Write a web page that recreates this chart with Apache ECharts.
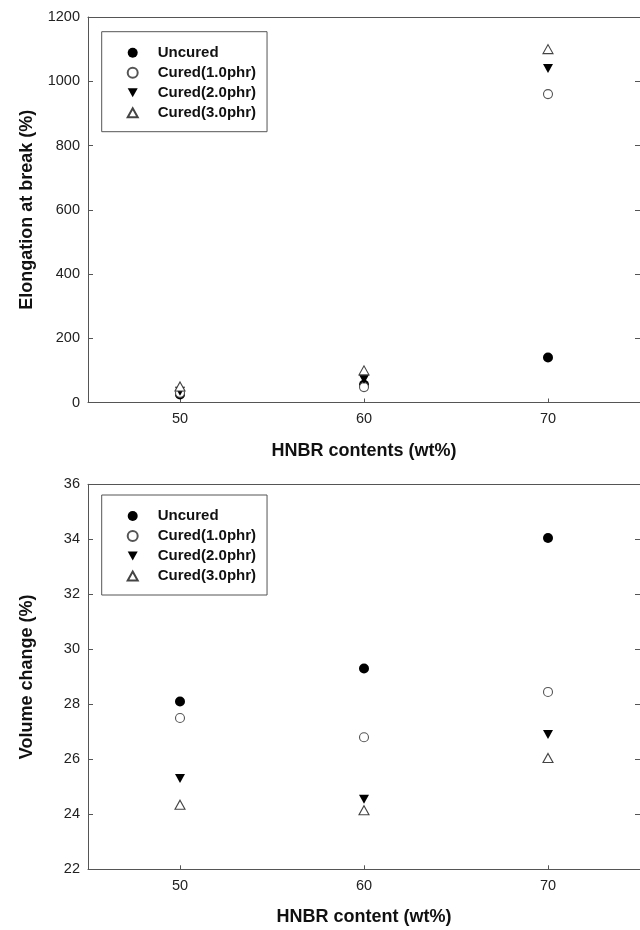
<!DOCTYPE html>
<html>
<head>
<meta charset="utf-8">
<script src="https://cdn.jsdelivr.net/npm/echarts@6/dist/echarts.min.js"></script>
<style>
html,body{margin:0;padding:0;background:#fff;}
#chart{width:640px;height:930px;}
</style>
</head>
<body>
<div id="chart"></div>
<script>
// ---- data ----
const hnbrContents = [50, 60, 70];
const xTicks = [50, 60, 70];
const seriesNames = ['Uncured', 'Cured(1.0phr)', 'Cured(2.0phr)', 'Cured(3.0phr)'];
const elongUncured = [25, 55, 140];
const elongCured1 = [30, 48, 960];
const elongCured2 = [35, 72, 1040];
const elongCured3 = [50, 100, 1100];
const volUncured = [28.1, 29.3, 34.05];
const volCured1 = [27.5, 26.8, 28.45];
const volCured2 = [25.3, 24.55, 26.9];
const volCured3 = [24.35, 24.15, 26.05];

const FONT = '"Liberation Sans", Arial, sans-serif';
const AX = '#555';

const styles = [
  { symbol: 'circle', symbolSize: 10, itemStyle: { color: '#000', opacity: 1 } },
  { symbol: 'circle', symbolSize: 9, itemStyle: { color: '#fff', borderColor: '#555', borderWidth: 1.1, opacity: 1 } },
  { symbol: 'path://M0,0L10,0L5,9Z', symbolSize: [10, 9], itemStyle: { color: '#000', opacity: 1 } },
  { symbol: 'path://M5,0L10,9L0,9Z', symbolSize: [10, 9], itemStyle: { color: '#fff', borderColor: '#444', borderWidth: 1.1, opacity: 1 } }
];

function pts(vals) { return hnbrContents.map((x, i) => [x, vals[i]]); }

function mkSeries(gi, arrs) {
  return arrs.map((a, k) => Object.assign({
    type: 'scatter', name: seriesNames[k], xAxisIndex: gi * 2, yAxisIndex: gi * 2,
    data: pts(a), z: 2 + k, emphasis: { disabled: true }
  }, styles[k]));
}

function xAxes(gi, title, gap) {
  return [{
    type: 'value', gridIndex: gi, min: 45, max: 75, position: 'bottom',
    name: title, nameLocation: 'middle', nameGap: gap,
    nameTextStyle: { fontFamily: FONT, fontSize: 18, fontWeight: 'bold', color: '#111' },
    axisLine: { show: true, onZero: false, lineStyle: { color: AX, width: 1 } },
    axisTick: { show: true, inside: true, length: 4, customValues: xTicks, lineStyle: { color: AX } },
    axisLabel: { customValues: xTicks, margin: 9, fontFamily: FONT, fontSize: 14.5, color: '#222' },
    splitLine: { show: false }
  }, {
    type: 'value', gridIndex: gi, min: 45, max: 75, position: 'top',
    axisLine: { show: true, onZero: false, lineStyle: { color: AX, width: 1 } },
    axisTick: { show: false }, axisLabel: { show: false }, splitLine: { show: false }
  }];
}

function yAxes(gi, title, min, max, interval) {
  return [{
    type: 'value', gridIndex: gi, min: min, max: max, interval: interval, position: 'left',
    name: title, nameLocation: 'middle', nameGap: 52, nameRotate: 90,
    nameTextStyle: { fontFamily: FONT, fontSize: 18, fontWeight: 'bold', color: '#111' },
    axisLine: { show: true, onZero: false, lineStyle: { color: AX, width: 1 } },
    axisTick: { show: true, inside: true, length: 5, lineStyle: { color: AX } },
    axisLabel: { margin: 8, fontFamily: FONT, fontSize: 14.5, color: '#222', formatter: v => String(v) },
    splitLine: { show: false }
  }, {
    type: 'value', gridIndex: gi, min: min, max: max, interval: interval, position: 'right',
    axisLine: { show: true, onZero: false, lineStyle: { color: AX, width: 1 } },
    axisTick: { show: true, inside: true, length: 5, lineStyle: { color: AX } },
    axisLabel: { show: false }, splitLine: { show: false }
  }];
}

function legend(top) {
  return {
    orient: 'vertical', left: 101.7, top: top,
    data: seriesNames, selectedMode: false,
    itemWidth: 10, itemHeight: 10, itemGap: 0,
    padding: [11, 11, 9, 25],
    borderColor: '#555', borderWidth: 1, backgroundColor: '#fff',
    textStyle: { fontFamily: FONT, fontSize: 15, fontWeight: 'bold', color: '#111', lineHeight: 20, padding: [0, 0, 0, 15] }
  };
}

const chart = echarts.init(document.getElementById('chart'), null, { renderer: 'canvas' });
chart.setOption({
  animation: false,
  backgroundColor: '#fff',
  grid: [
    { left: 88, right: -1, top: 17, height: 385.5 },
    { left: 88, right: -1, top: 484.3, height: 385 }
  ],
  xAxis: [].concat(xAxes(0, 'HNBR contents (wt%)', 40), xAxes(1, 'HNBR content (wt%)', 39)),
  yAxis: [].concat(yAxes(0, 'Elongation at break (%)', 0, 1200, 200), yAxes(1, 'Volume change (%)', 22, 36, 2)),
  legend: [legend(31.7), legend(495)],
  series: [].concat(
    mkSeries(0, [elongUncured, elongCured1, elongCured2, elongCured3]),
    mkSeries(1, [volUncured, volCured1, volCured2, volCured3])
  )
});
</script>
</body>
</html>
